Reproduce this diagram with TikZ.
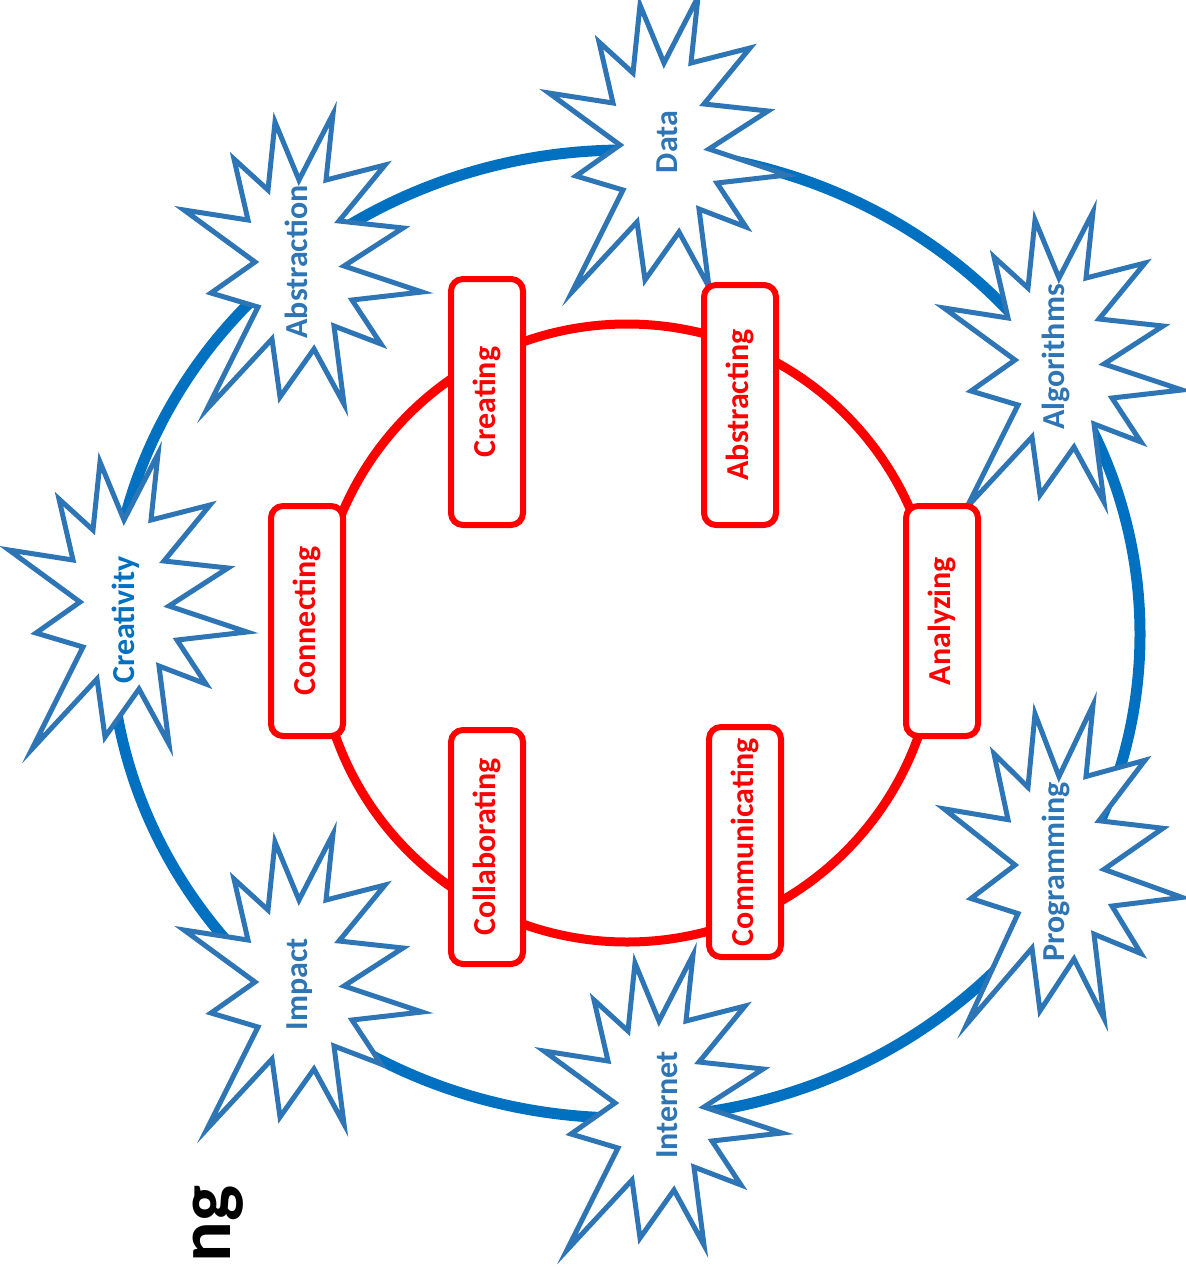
\documentclass[tikz,border=0pt]{standalone}
\usepackage{fontspec}
\setmainfont{Carlito}
\usetikzlibrary{positioning}
\definecolor{ringblue}{HTML}{0070C0}
\definecolor{burstblue}{HTML}{2E75B6}
\definecolor{ringred}{HTML}{FF0000}

% explosion outline, centred on the pic origin
\tikzset{
  burst/.pic={
    \draw[burstline] (33,-148) -- (26,-82) -- (85,-97) -- (39,-41) -- (103,-34) -- (44,4)
      -- (122,30) -- (52,38) -- (81,82) -- (34,64) -- (44,142) -- (14,87)
      -- (-20,135) -- (-28,77) -- (-93,147) -- (-42,45) -- (-89,31) -- (-45,0)
      -- (-116,-52) -- (-52,-42) -- (-66,-103) -- (-32,-72) -- (-25,-140) -- (-1,-82) -- cycle;
  }
}

\begin{document}
\begin{tikzpicture}[
        x=1pt, y=-1pt,
        burstline/.style={draw=burstblue, fill=white, line width=5pt},
        idea/.style={text=burstblue, font=\fontsize{32}{38}\selectfont\bfseries, rotate=90, inner sep=0pt},
        practice/.style={draw=ringred, fill=white, line width=6pt, rounded corners=12pt, minimum width=230pt, minimum height=72pt, inner sep=0pt, text=ringred, font=\fontsize{32}{38}\selectfont\bfseries, rotate=90}
    ]
        \useasboundingbox (0,0) rectangle (1186,1267);
        \clip (0,0) rectangle (1186,1267);

        % Outer ring of big ideas
        \draw[ringblue, line width=11pt] (625,634) ellipse [x radius=515, y radius=484];

        \pic at (665,145) {burst};
        \pic at (300,262) {burst};
        \pic at (125,602) {burst};
        \pic at (300,982) {burst};
        \pic at (660,1103) {burst};
        \pic[yscale=1.08] at (1060,865) {burst};
        \pic at (1060,360) {burst};

        \node[idea] (data) at (667,142) {Data};
        \node[idea] (abstraction) at (296,262) {Abstraction};
        \node[idea, text=ringblue] (creativity) at (126,620) {Creativity};
        \node[idea] (impact) at (300,984) {Impact};
        \node[idea] (internet) at (667,1105) {Internet};
        \node[idea] (programming) at (1056,872) {Programming};
        \node[idea] (algorithms) at (1056,357) {Algorithms};

        % Inner ring of practices
        \draw[ringred, line width=9pt] (627,633) circle [radius=309];

        \node[practice, minimum width=246pt] (creating) at (487,402) {Creating};
        \node[practice, minimum width=240pt] (abstracting) at (740,405) {Abstracting};
        \node[practice] (analyzing) at (942,621) {Analyzing};
        \node[practice] (communicating) at (745,842) {Communicating};
        \node[practice, minimum width=234pt] (collaborating) at (487,847) {Collaborating};
        \node[practice] (connecting) at (307,621) {Connecting};

        % cut-off title
        \node[rotate=90, anchor=base east, inner sep=0pt, font=\fontsize{76}{80}\selectfont\bfseries] (title) at (230,1185) {ng};
\end{tikzpicture}
\end{document}
